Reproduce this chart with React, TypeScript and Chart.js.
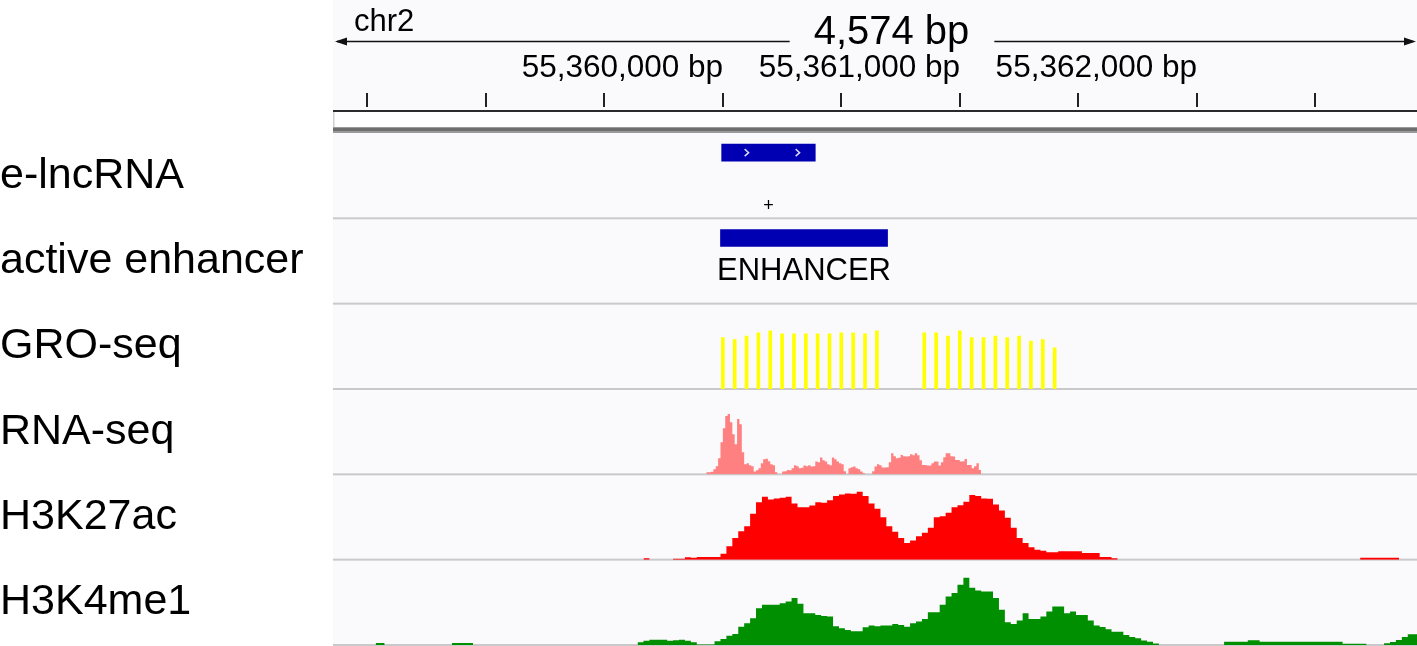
import React, { useEffect, useRef } from 'react';
import { Chart, registerables } from 'chart.js';

Chart.register(...registerables);

const FONT = "'Liberation Sans', Arial, Helvetica, sans-serif";

// ---- locus / ruler ----
const CHROM = 'chr2';
const VIEW_START = 55358855;
const VIEW_END = 55363429;
const SPAN_LABEL = '4,574 bp';
const RULER_TICKS = [
  55359000, 55359500, 55360000, 55360500, 55361000, 55361500, 55362000, 55362500, 55363000,
];
const RULER_LABELS = [55360000, 55361000, 55362000];

// ---- track names ----
const TRACK_NAMES = ['e-lncRNA', 'active enhancer', 'GRO-seq', 'RNA-seq', 'H3K27ac', 'H3K4me1'];

// ---- features ----
const FEATURE_ROW = 23;
const LNCRNA = [55360495, 55360890];
const LNCRNA_NAME = '+';
const ENHANCER = [55360490, 55361195];
const ENHANCER_NAME = 'ENHANCER';

// ---- GRO-seq ----
const GRO_POS = [
  55360500, 55360550, 55360600, 55360650, 55360700, 55360750, 55360800, 55360850, 55360900, 55360950,
  55361000, 55361050, 55361100, 55361150,
  55361350, 55361400, 55361450, 55361500, 55361550, 55361600, 55361650, 55361700, 55361750, 55361800,
  55361850, 55361900,
];
const GRO_VAL = [
  51.3, 49.3, 52.7, 56, 58, 55, 55, 55, 55, 55, 56, 56, 55, 58,
  56, 56, 52.7, 58, 51.3, 51.3, 52.7, 51.3, 52.7, 47.7, 49.3, 41,
];

// ---- RNA-seq ----
const RNA_START = 55360430;
const RNA_BIN = 10;
const RNA_VAL = [
  2, 2, 2.5, 5, 8, 16, 32, 46, 58, 60,
  52, 40, 30, 55, 50, 22, 10, 11, 9, 8,
  2.7, 4, 6, 11, 15, 15.5, 13, 10, 9, 2,
  0, 0, 2.7, 3, 4.3, 4, 6, 9, 8, 6,
  6.5, 8.7, 8, 9, 7.7, 8, 12.7, 12, 16.7, 14,
  12.7, 10, 9, 16.7, 15, 12.7, 11, 10, 3, 0,
  6, 7, 7.7, 6, 5, 2.7, 1, 0, 0, 0,
  3, 7.7, 10, 9, 6.7, 6.7, 7, 12, 21, 18,
  16, 16.5, 19.3, 18, 17.7, 18, 20, 19, 21, 19,
  14, 9.3, 9.3, 8.7, 8.7, 11, 12.7, 12.7, 8.7, 12,
  17, 21, 21, 18, 17.7, 14.3, 14.3, 12.7, 13, 15.3,
  9.3, 9.3, 6, 8, 11, 4.3,
];

// ---- H3K27ac ----
const K27_START = 55360165;
const K27_BIN = 25;
const K27_VAL = [
  1.5, 0, 0, 0, 0, 1, 1, 2.3, 2, 2.7,
  2.7, 2.7, 2.7, 6, 13.3, 21.7, 28.3, 33.3, 45.7, 57.3,
  62.7, 60, 61, 61.7, 62.7, 56, 52.3, 52.3, 54, 57.3,
  56.7, 59.3, 63.3, 65, 66, 65.7, 67.7, 63.3, 56, 50.7,
  42.3, 33.3, 27.7, 21.7, 16.7, 19, 23.3, 26.7, 31.7, 42.3,
  43.3, 46.7, 52.3, 54.3, 57.7, 64.3, 63.3, 61, 60.7, 55,
  49, 41.7, 31.7, 21.7, 16.7, 12.3, 10, 9, 7.3, 7.3,
  8.3, 8.3, 8.3, 8.3, 6.7, 6.7, 6.7, 2.7, 2.7, 1.3,
  0,
];
const K27_EXTRA = [55363189, 55363353, 2];

// ---- H3K4me1 ----
const K4_START = 55360140;
const K4_BIN = 25;
const K4_VAL = [
  2.7, 4.3, 5.3, 5.3, 5.3, 4.3, 4.7, 5.3, 4.3, 2.7,
  0.5, 0.5, 0.5, 3.7, 6, 9.3, 11, 18.3, 21.7, 26.7,
  36.7, 40, 40, 40, 41.7, 43.3, 46.7, 41, 31.7, 31.7,
  30, 29, 28.3, 18.7, 16.7, 15, 13.7, 13.7, 17.7, 19.3,
  18.7, 19.3, 19.3, 21, 20, 18.3, 21.7, 23.3, 26, 32.7,
  32.7, 40, 48.3, 51.7, 60, 67, 57, 54.3, 53.3, 53.3,
  46.7, 35, 22.7, 21, 24.3, 31.7, 26, 26, 28.3, 33.3,
  38.3, 38.3, 31.7, 33.3, 30, 30, 24.3, 19.3, 18, 15.7,
  13.3, 13.3, 10, 8, 6.7, 4.5, 3.3, 1.5, 0, 0,
  0, 0, 0, 0, 0, 0, 0, 0, 0, 3.3,
  3.3, 3.3, 3.3, 4.7, 4.7, 3.3, 3.3, 3.3, 3.3, 3.3,
  3.3, 3.3, 3.3, 3.3, 3.3, 3.3, 3.3, 3.3, 3.3, 1.3,
  1.3, 1.3, 1.3, 0, 0, 0, 1.7, 3, 5, 8,
  10.7, 10.7,
];
const K4_EXTRA_A = [55359035, 55359073, 2];
const K4_EXTRA_B = [55359357, 55359446, 2];

const SIGNAL_MAX = 85;

const COLORS = {
  feature: '#0000B2',
  gro: '#FFFF00',
  rna: '#FF8080',
  k27: '#FF0000',
  k4: '#008F00',
  panel: '#FAFAFC',
  sep: '#C9C9CC',
};

function binsToPoints(start: number, bin: number, vals: number[]) {
  const pts = vals.map((v, i) => ({ x: start + i * bin, y: v }));
  pts.push({ x: start + vals.length * bin, y: 0 });
  return pts;
}
function segToPoints(seg: number[]) {
  return [{ x: seg[0], y: seg[2] }, { x: seg[1], y: 0 }];
}

function areaDataset(data: any[], yAxisID: string, color: string) {
  return {
    type: 'line',
    data,
    xAxisID: 'x',
    yAxisID,
    stepped: true,
    fill: 'origin',
    backgroundColor: color,
    borderColor: 'rgba(0,0,0,0)',
    borderWidth: 0,
    pointRadius: 0,
    pointHoverRadius: 0,
  };
}

function featureDataset(span: number[], yAxisID: string) {
  return {
    type: 'bar',
    indexAxis: 'y',
    xAxisID: 'xf',
    yAxisID,
    data: [{ x: span, y: FEATURE_ROW }],
    backgroundColor: COLORS.feature,
    borderWidth: 0,
    grouped: false,
    barThickness: 17,
    maxBarThickness: 17,
  };
}

const TRACK_IDS = ['yLnc', 'yEnh', 'yGro', 'yRna', 'yK27', 'yK4'];

function barBox(chart: any, index: number) {
  const el: any = chart.getDatasetMeta(index).data[0];
  const p = el.getProps(['x', 'y', 'base', 'height'], true);
  return { x0: Math.min(p.x, p.base), x1: Math.max(p.x, p.base), y: p.y, h: p.height };
}

const igvPlugin = {
  id: 'igvDecor',
  beforeDraw(chart: any) {
    const { ctx, chartArea, scales } = chart;
    const left = chartArea.left;
    const w = chartArea.right - chartArea.left;
    ctx.save();
    ctx.fillStyle = '#FFFFFF';
    ctx.fillRect(0, 0, chart.width, chart.height);
    ctx.fillStyle = COLORS.panel;
    ctx.fillRect(left, 0, w, chart.height);
    const band = scales.yBand;
    ctx.fillStyle = '#2A2A2A';
    ctx.fillRect(left, band.top + 3, w, 2);
    ctx.fillStyle = '#FFFFFF';
    ctx.fillRect(left, band.top + 5, w, band.bottom - band.top - 11);
    ctx.fillStyle = '#D0D0D0';
    ctx.fillRect(left, band.top + 5, 1.5, band.bottom - band.top - 11);
    ctx.fillStyle = '#9A9A9A';
    ctx.fillRect(left, band.bottom - 6, w, 6);
    ctx.fillStyle = '#6E6E6E';
    ctx.fillRect(left, band.bottom - 5, w, 3);
    ctx.restore();
  },
  beforeDatasetsDraw(chart: any) {
    const { ctx, chartArea, scales } = chart;
    ctx.save();
    ctx.fillStyle = COLORS.sep;
    TRACK_IDS.forEach((id) => {
      const s = scales[id];
      ctx.fillRect(chartArea.left, s.bottom - 1, chartArea.right - chartArea.left, 2);
    });
    ctx.restore();
  },
  afterDatasetsDraw(chart: any) {
    const { ctx } = chart;
    ctx.save();
    const lnc = barBox(chart, 0);
    ctx.strokeStyle = '#DDDDFF';
    ctx.lineWidth = 1.4;
    for (let cx = lnc.x0 + 25; cx < lnc.x1 - 8; cx += 51) {
      ctx.beginPath();
      ctx.moveTo(cx - 2, lnc.y - 3.5);
      ctx.lineTo(cx + 2, lnc.y);
      ctx.lineTo(cx - 2, lnc.y + 3.5);
      ctx.stroke();
    }
    ctx.fillStyle = '#000';
    ctx.textAlign = 'center';
    ctx.textBaseline = 'middle';
    ctx.font = `18px ${FONT}`;
    ctx.fillText(LNCRNA_NAME, (lnc.x0 + lnc.x1) / 2, lnc.y + 53.5);
    const enh = barBox(chart, 1);
    ctx.textBaseline = 'alphabetic';
    ctx.font = `31px ${FONT}`;
    ctx.fillText(ENHANCER_NAME, (enh.x0 + enh.x1) / 2, enh.y + 42.5);
    ctx.restore();
  },
  afterDraw(chart: any) {
    const { ctx, chartArea, scales } = chart;
    ctx.save();
    ctx.fillStyle = '#000';
    ctx.textAlign = 'left';
    ctx.textBaseline = 'middle';
    ctx.font = `43px ${FONT}`;
    TRACK_IDS.forEach((id, i) => {
      const s = scales[id];
      ctx.fillText(TRACK_NAMES[i], 0, (s.top + s.bottom) / 2);
    });
    const left = chartArea.left;
    const right = chartArea.right;
    ctx.textBaseline = 'alphabetic';
    ctx.font = `31px ${FONT}`;
    ctx.fillText(CHROM, left + 21, 31);
    ctx.font = `40px ${FONT}`;
    const tw = ctx.measureText(SPAN_LABEL).width;
    const cx = (left + right) / 2 + 16.5;
    ctx.textAlign = 'center';
    ctx.fillText(SPAN_LABEL, cx, 44);
    const ay = 41.5;
    ctx.strokeStyle = '#111';
    ctx.lineWidth = 1.5;
    ctx.beginPath();
    ctx.moveTo(left + 4, ay);
    ctx.lineTo(cx - tw / 2 - 24, ay);
    ctx.moveTo(cx + tw / 2 + 25, ay);
    ctx.lineTo(right - 4, ay);
    ctx.stroke();
    ctx.fillStyle = '#111';
    ctx.beginPath();
    ctx.moveTo(left + 2, ay);
    ctx.lineTo(left + 14, ay - 4);
    ctx.lineTo(left + 14, ay + 4);
    ctx.closePath();
    ctx.fill();
    ctx.beginPath();
    ctx.moveTo(right - 1, ay);
    ctx.lineTo(right - 13, ay - 4);
    ctx.lineTo(right - 13, ay + 4);
    ctx.closePath();
    ctx.fill();
    ctx.restore();
  },
};

function trackScale(weight: number, min: number, max: number, reverse = false) {
  return {
    type: 'linear',
    position: 'left',
    stack: 'tracks',
    stackWeight: 85.33,
    weight,
    display: false,
    offset: false,
    grid: { offset: false },
    min,
    max,
    reverse,
  };
}

export default function App() {
  const ref = useRef<HTMLCanvasElement>(null);

  useEffect(() => {
    document.body.style.margin = '0';
    const datasets: any[] = [
      featureDataset(LNCRNA, 'yLnc'),
      featureDataset(ENHANCER, 'yEnh'),
      {
        type: 'bar',
        xAxisID: 'x',
        yAxisID: 'yGro',
        data: GRO_POS.map((p, i) => ({ x: p, y: GRO_VAL[i] })),
        backgroundColor: COLORS.gro,
        borderWidth: 0,
        grouped: false,
        barThickness: 3,
        maxBarThickness: 3,
      },
      areaDataset(binsToPoints(RNA_START, RNA_BIN, RNA_VAL), 'yRna', COLORS.rna),
      areaDataset(binsToPoints(K27_START, K27_BIN, K27_VAL), 'yK27', COLORS.k27),
      areaDataset(segToPoints(K27_EXTRA), 'yK27', COLORS.k27),
      areaDataset(binsToPoints(K4_START, K4_BIN, K4_VAL), 'yK4', COLORS.k4),
      areaDataset(segToPoints(K4_EXTRA_A), 'yK4', COLORS.k4),
      areaDataset(segToPoints(K4_EXTRA_B), 'yK4', COLORS.k4),
    ];

    const chart = new Chart(ref.current as HTMLCanvasElement, {
      type: 'line',
      data: { datasets },
      plugins: [igvPlugin],
      options: {
        animation: false,
        responsive: false,
        devicePixelRatio: 1,
        events: [],
        layout: { padding: { left: 333, right: 0, top: 0, bottom: 1 } },
        plugins: {
          legend: { display: false },
          tooltip: { enabled: false },
          title: { display: false },
        },
        scales: {
          x: {
            type: 'linear',
            position: 'top',
            min: VIEW_START,
            max: VIEW_END,
            offset: false,
            afterBuildTicks: (s: any) => {
              s.ticks = RULER_TICKS.map((v) => ({ value: v }));
            },
            afterFit: (s: any) => {
              s.height = 107;
            },
            border: { display: false },
            grid: {
              display: true,
              offset: false,
              drawOnChartArea: false,
              drawTicks: true,
              tickLength: 14,
              tickWidth: 2,
              lineWidth: 2,
              tickColor: '#222',
              color: '#222',
            },
            ticks: {
              autoSkip: false,
              maxRotation: 0,
              minRotation: 0,
              padding: 6,
              labelOffset: 18,
              color: '#000',
              font: { family: FONT, size: 31.5 },
              callback: (v: any) =>
                RULER_LABELS.includes(Number(v)) ? Number(v).toLocaleString('en-US') + ' bp' : '',
            },
          },
          xf: {
            type: 'linear',
            axis: 'x',
            position: 'bottom',
            display: false,
            offset: false,
            grid: { offset: false },
            min: VIEW_START,
            max: VIEW_END,
          },
          yBand: {
            type: 'linear',
            position: 'left',
            stack: 'tracks',
            stackWeight: 26,
            weight: 7,
            display: false,
            offset: false,
            min: 0,
            max: 1,
          },
          yLnc: trackScale(6, 0, 100, true),
          yEnh: trackScale(5, 0, 100, true),
          yGro: trackScale(4, 0, SIGNAL_MAX),
          yRna: trackScale(3, 0, SIGNAL_MAX),
          yK27: trackScale(2, 0, SIGNAL_MAX),
          yK4: trackScale(1, 0, SIGNAL_MAX),
        },
      } as any,
    } as any);
    return () => chart.destroy();
  }, []);

  return (
    <div style={{ position: 'fixed', left: 0, top: 0, width: 1417, height: 646, background: '#fff' }}>
      <canvas ref={ref} width={1417} height={646} style={{ display: 'block', width: 1417, height: 646 }} />
    </div>
  );
}
